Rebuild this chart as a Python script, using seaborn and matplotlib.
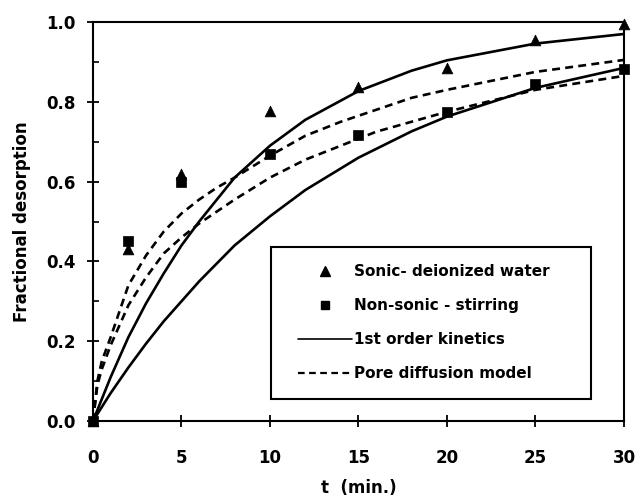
import numpy as np
import pandas as pd
import matplotlib
matplotlib.use("Agg")
import matplotlib.pyplot as plt
from matplotlib.lines import Line2D
from matplotlib.legend_handler import HandlerLine2D
from matplotlib.ticker import MultipleLocator
import seaborn as sns

# ---- data ----
t_pts = [0, 2, 5, 10, 15, 20, 25, 30]
sonic = [0.0, 0.43, 0.62, 0.778, 0.836, 0.885, 0.955, 0.995]
nonsonic = [0.0, 0.45, 0.60, 0.67, 0.718, 0.775, 0.844, 0.882]

t_first = [0, 1, 2, 3, 4, 5, 6, 8, 10, 12, 15, 18, 20, 25, 30]
first_sonic = [0, 0.11, 0.21, 0.295, 0.37, 0.44, 0.50, 0.61, 0.69, 0.755, 0.827, 0.878, 0.904, 0.946, 0.97]
first_nonsonic = [0, 0.07, 0.134, 0.194, 0.25, 0.30, 0.35, 0.44, 0.513, 0.579, 0.66, 0.726, 0.763, 0.835, 0.885]

t_pore = [0, 0.25, 0.5, 1, 1.5, 2, 3, 4, 5, 6, 7, 8, 10, 12, 14, 16, 18, 20, 25, 30]
pore_sonic = [0, 0.10, 0.15, 0.21, 0.275, 0.34, 0.415, 0.475, 0.52, 0.555, 0.585, 0.61, 0.665, 0.715,
              0.75, 0.78, 0.81, 0.83, 0.875, 0.905]
pore_nonsonic = [0, 0.09, 0.13, 0.19, 0.24, 0.29, 0.36, 0.42, 0.46, 0.495, 0.525, 0.555, 0.61, 0.655,
                 0.69, 0.725, 0.75, 0.775, 0.83, 0.865]

legend_labels = ["Sonic- deionized water", "Non-sonic - stirring",
                 "1st order kinetics", "Pore diffusion model"]

# ---- figure ----
sns.set_style("ticks")
plt.rcParams['font.family'] = ['DejaVu Sans']
plt.rcParams['text.color'] = 'black'
plt.rcParams['axes.labelcolor'] = 'black'
plt.rcParams['xtick.color'] = 'black'
plt.rcParams['ytick.color'] = 'black'

fig = plt.figure(figsize=(6.39, 5.04), dpi=100)
ax = fig.add_axes([0.1455, 0.1647, 0.8310, 0.7916])

lw = 1.9
df_first = pd.DataFrame({"t": t_first * 2,
                         "v": first_sonic + first_nonsonic,
                         "s": ["a"] * len(t_first) + ["b"] * len(t_first)})
df_pore = pd.DataFrame({"t": t_pore * 2,
                        "v": pore_sonic + pore_nonsonic,
                        "s": ["a"] * len(t_pore) + ["b"] * len(t_pore)})

sns.lineplot(data=df_first, x="t", y="v", units="s", estimator=None, color="black",
             linewidth=lw, ax=ax, legend=False)
sns.lineplot(data=df_pore, x="t", y="v", units="s", estimator=None, color="black",
             linewidth=lw, ax=ax, legend=False)
for ln in ax.lines[2:]:
    ln.set_dashes((3.0, 2.0))

sns.scatterplot(x=t_pts, y=sonic, marker="^", s=60, color="black", edgecolor="black",
                linewidth=0.5, ax=ax, zorder=5, clip_on=False)
sns.scatterplot(x=t_pts, y=nonsonic, marker="s", s=50, color="black", edgecolor="black",
                linewidth=0.5, ax=ax, zorder=5, clip_on=False)

ax.set_xlim(0, 30)
ax.set_ylim(0, 1.0)
ax.set_xticks([0, 5, 10, 15, 20, 25, 30])
ax.set_yticks([0.0, 0.2, 0.4, 0.6, 0.8, 1.0])
ax.set_yticklabels(["0.0", "0.2", "0.4", "0.6", "0.8", "1.0"])
ax.yaxis.set_minor_locator(MultipleLocator(0.1))

for sp in ax.spines.values():
    sp.set_visible(True)
    sp.set_linewidth(1.5)
    sp.set_color("black")

ax.tick_params(axis="both", which="major", direction="inout", length=9, width=1.3,
               colors="black", labelcolor="black", labelsize=12)
ax.tick_params(axis="x", which="major", pad=16)
ax.tick_params(axis="y", which="major", pad=8)
ax.tick_params(axis="y", which="minor", direction="in", length=4, width=1.2)
ax.tick_params(top=False, right=False, which="both")
for lab in ax.get_xticklabels() + ax.get_yticklabels():
    lab.set_fontweight("bold")

ax.set_xlabel("t  (min.)", fontsize=12, fontweight="bold", labelpad=8, color="black")
ax.set_ylabel("Fractional desorption", fontsize=12, fontweight="bold", labelpad=11, color="black")

handles = [
    Line2D([], [], linestyle="none", marker="^", color="black", markersize=7),
    Line2D([], [], linestyle="none", marker="s", color="black", markersize=6),
    Line2D([], [], linestyle="-", color="black", linewidth=1.2),
    Line2D([], [], linestyle=(0, (3, 2)), color="black", linewidth=1.6),
]
hmap = {h: HandlerLine2D(xpad=0.62) for h in handles}
leg = ax.legend(handles, legend_labels, loc="lower left",
                bbox_to_anchor=(0.3346, 0.055, 0.6034, 0.38), mode="expand",
                frameon=True, fancybox=False, framealpha=1, edgecolor="black",
                prop={"family": "DejaVu Sans", "weight": "bold", "size": 11},
                handlelength=4.2, handletextpad=0.1, labelspacing=1.25,
                borderpad=1.15, borderaxespad=0, handler_map=hmap)
leg.get_frame().set_linewidth(1.5)
for txt in leg.get_texts():
    txt.set_color("black")

fig.savefig("out.png", dpi=100)
